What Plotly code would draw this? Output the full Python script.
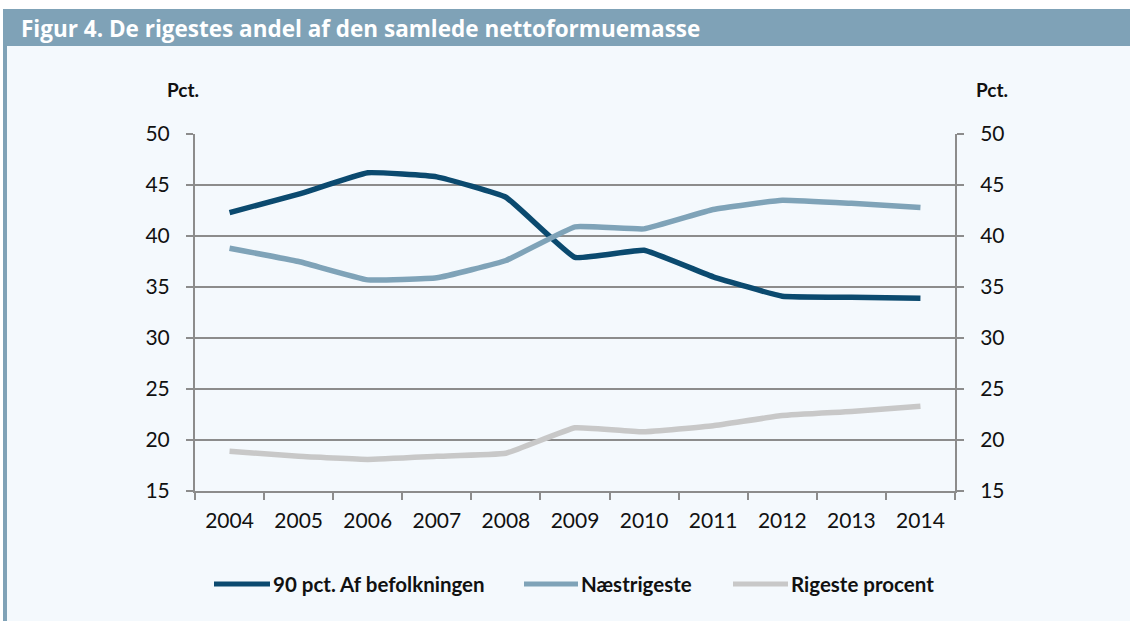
import plotly.graph_objects as go

years = ["2004", "2005", "2006", "2007", "2008", "2009", "2010", "2011", "2012", "2013", "2014"]
pct90 = [42.3, 44.1, 46.2, 45.8, 43.8, 37.9, 38.6, 36.0, 34.1, 34.0, 33.9]
naestrigeste = [38.8, 37.5, 35.7, 35.9, 37.6, 40.9, 40.7, 42.6, 43.5, 43.2, 42.8]
rigeste = [18.9, 18.4, 18.1, 18.4, 18.7, 21.2, 20.8, 21.4, 22.4, 22.8, 23.3]
names = ["90 pct. Af befolkningen", "Næstrigeste", "Rigeste procent"]
colors = ["#0b4a6f", "#7fa3b8", "#c8c8c8"]
title = "Figur 4. De rigestes andel af den samlede nettoformuemasse"
ytick_vals = [15, 20, 25, 30, 35, 40, 45, 50]

BG = "#f4f9fd"
GRID = "#8c8c8c"
FONT = "Lato"

W, H = 1130, 621
L, R, T, B = 195, 175, 134, 130
pw, ph = W - L - R, H - T - B

def px(x):
    return (x - L) / pw

def py(y):
    return (H - B - y) / ph

fig = go.Figure()
for vals, name, col in zip([pct90, naestrigeste, rigeste], names, colors):
    fig.add_trace(go.Scatter(x=years, y=vals, name=name, mode="lines",
                             line=dict(color=col, width=5.5, shape="spline", smoothing=0.3),
                             showlegend=False))
# dummy trace to activate right axis
fig.add_trace(go.Scatter(x=years, y=pct90, yaxis="y2", mode="lines",
                         line=dict(width=0), opacity=0, showlegend=False, hoverinfo="skip"))

shapes = [
    dict(type="rect", xref="paper", yref="paper", x0=px(-5), x1=px(W + 5), y0=py(9), y1=py(-5),
         fillcolor="white", line=dict(width=0), layer="below"),
    dict(type="rect", xref="paper", yref="paper", x0=px(-5), x1=px(3), y0=py(H + 5), y1=py(-5),
         fillcolor="white", line=dict(width=0), layer="below"),
    dict(type="rect", xref="paper", yref="paper", x0=px(3), x1=px(W + 5), y0=py(46), y1=py(9),
         fillcolor="#7fa2b7", line=dict(width=0), layer="below"),
    dict(type="rect", xref="paper", yref="paper", x0=px(3), x1=px(7), y0=py(H + 5), y1=py(46),
         fillcolor="#7fa2b7", line=dict(width=0), layer="below"),
]
annotations = [
    dict(text=f"<b>{title}</b>", xref="paper", yref="paper", x=px(19), y=py(29),
         xanchor="left", yanchor="middle", showarrow=False,
         font=dict(family="Open Sans", size=22.5, color="white")),
    dict(text="<b>Pct.</b>", xref="paper", yref="paper", x=px(183), y=py(89),
         xanchor="center", yanchor="middle", showarrow=False,
         font=dict(family=FONT, size=19, color="#111")),
    dict(text="<b>Pct.</b>", xref="paper", yref="paper", x=px(992), y=py(89),
         xanchor="center", yanchor="middle", showarrow=False,
         font=dict(family=FONT, size=19, color="#111")),
]
# manual legend
leg = [(214, 270), (524, 578), (733, 788)]
for (x0, x1), name, col in zip(leg, names, colors):
    shapes.append(dict(type="line", xref="paper", yref="paper", x0=px(x0), x1=px(x1),
                       y0=py(584), y1=py(584), line=dict(color=col, width=5)))
    annotations.append(dict(text=f"<b>{name}</b>", xref="paper", yref="paper", x=px(x1 + 1), y=py(584),
                            xanchor="left", yanchor="middle", showarrow=False,
                            font=dict(family=FONT, size=20.5, color="#111")))

yax = dict(range=[15, 50], tickvals=ytick_vals, showgrid=True, gridcolor=GRID, gridwidth=1.5,
           showline=True, linecolor=GRID, linewidth=2, ticks="outside", ticklen=7,
           tickcolor=GRID, tickwidth=2, zeroline=False, ticklabelstandoff=12,
           tickfont=dict(family=FONT, size=21, color="#111"), fixedrange=True)

fig.update_layout(
    width=W, height=H,
    margin=dict(l=L, r=R, t=T, b=B),
    paper_bgcolor=BG, plot_bgcolor=BG,
    xaxis=dict(type="category", range=[-0.5, 10.5], showgrid=False, showline=True,
               linecolor=GRID, linewidth=2, ticks="outside", ticklen=7, tickcolor=GRID,
               tickwidth=2, tickson="boundaries", ticklabelstandoff=10,
               tickfont=dict(family=FONT, size=21, color="#111")),
    yaxis=yax,
    yaxis2=dict(yax, overlaying="y", side="right", showgrid=False),
    shapes=shapes, annotations=annotations,
    showlegend=False,
)
fig.write_html("out.html", config={"displayModeBar": False},
               post_script="document.body.style.margin='0';document.body.style.overflow='hidden';")
